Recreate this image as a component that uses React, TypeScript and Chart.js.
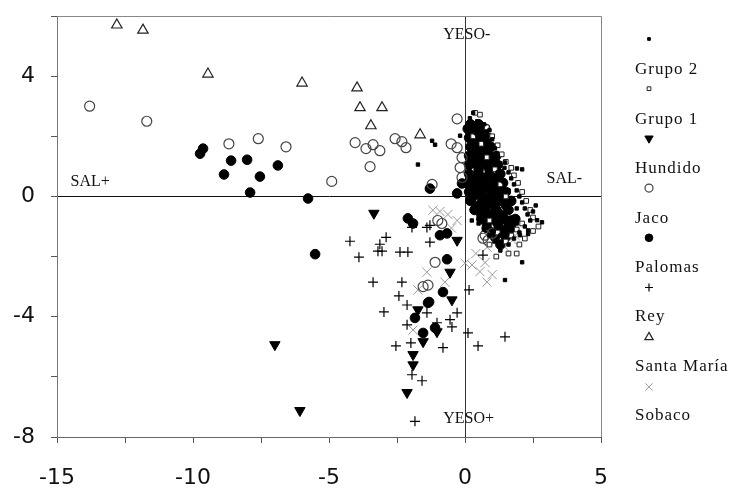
import React, { useEffect, useRef } from 'react';
import { Chart, registerables } from 'chart.js';
import { drawPoint } from 'chart.js/helpers';

Chart.register(...registerables);

type P = [number, number];

const seriesNames = ['Grupo 2', 'Grupo 1', 'Hundido', 'Jaco', 'Palomas', 'Rey', 'Santa María', 'Sobaco'];

const xTickLabels = ['-15', '-10', '-5', '0', '5'];
const yTickLabels = ['-8', '-4', '0', '4'];

const grupo2: P[] = [
  [0.18, 2.6], [0.3, 2.78], [0.45, 2.5], [0.7, 2.4], [0.9, 2.2], [0.1, 2.3], [0.6, 2.0], [1.0, 1.9],
  [0.8, 1.7], [1.1, 1.6], [1.2, 1.3], [1.3, 1.1], [1.45, 0.95], [1.6, 0.8], [1.7, 0.6], [1.8, 0.4],
  [1.9, 0.2], [2.0, 0.0], [2.1, -0.2], [2.2, -0.4], [2.3, -0.6], [2.4, -0.8], [2.2, -1.0], [2.0, -1.2],
  [1.8, -1.4], [1.6, -1.6], [1.3, -1.8], [1.1, -1.5], [0.9, -1.3], [0.7, -1.1], [0.5, -0.9],
  [0.2, 1.6], [0.5, 1.4], [0.9, 1.1], [1.2, 0.8], [1.4, 0.5], [1.6, 0.2], [1.7, -0.1], [1.9, -0.4],
  [1.7, -0.7], [1.5, -1.0], [1.3, -1.3], [0.2, 1.0], [0.4, 0.8], [0.6, 0.5], [1.0, 0.6], [0.2, 0.3],
  [0.1, -0.1], [0.3, -0.5], [0.7, -0.3], [1.0, 0.1], [1.2, -0.5], [1.4, -0.7], [1.1, -0.9],
  [1.21, 1.36], [1.47, 1.13], [1.91, 0.93], [2.1, 0.9], [2.65, -0.79], [2.83, -0.86], [2.32, -1.13],
  [2.32, -1.25], [2.02, -1.29], [2.1, -2.19], [1.47, -2.78], [-1.21, 1.85], [-1.1, 1.72], [-1.73, 1.06],
  [-0.18, 2.02], [2.5, -0.5], [2.6, -0.3], [0.4, 2.1], [0.75, 1.85], [0.95, 1.45], [1.35, 0.25],
  [1.55, -0.35], [0.85, -0.55], [0.45, 0.15], [0.25, -0.8], [1.05, -1.15], [1.55, -1.25], [1.9, -0.9],
];

const grupo1: P[] = [
  [0.37, 2.78], [0.55, 2.72], [0.8, 2.3], [1.0, 2.0], [1.2, 1.7], [1.35, 1.4], [1.5, 1.15], [1.7, 0.95],
  [1.8, 0.7], [1.95, 0.45], [2.1, 0.15], [2.25, -0.15], [2.4, -0.45], [2.5, -0.7], [2.1, -0.9],
  [1.9, -1.1], [1.7, -1.3], [2.0, -1.6], [1.5, -1.5], [1.2, -1.2], [0.9, -0.8], [1.5, 0.0], [1.3, 0.4],
  [1.1, 0.9], [0.8, 1.3], [0.6, 1.75], [0.3, 2.0], [2.2, -1.4], [1.9, -1.9], [2.5, -1.15], [2.7, -1.0],
  [1.6, -1.9], [0.9, -1.6], [1.15, -2.0],
];

const hundido: P[] = [
  [-3.35, -0.56], [-6.99, -4.93], [-6.07, -7.12], [-0.29, -1.46], [-0.55, -2.52], [-0.48, -3.44],
  [-1.73, -3.77], [-1.03, -4.5], [-1.54, -4.83], [-1.91, -5.26], [-1.91, -5.6], [-2.13, -6.52],
];

const jaco: P[] = [
  [-13.8, 3.0], [-11.7, 2.5], [-8.68, 1.75], [-7.6, 1.92], [-6.58, 1.65], [-4.9, 0.5], [-4.04, 1.79],
  [-3.64, 1.59], [-3.38, 1.72], [-3.13, 1.52], [-3.49, 0.99], [-2.57, 1.92], [-2.32, 1.82],
  [-2.17, 1.62], [-1.21, 0.4], [-0.51, 1.75], [-0.29, 2.58], [-0.29, 1.62], [-0.11, 1.29],
  [-0.18, 0.96], [-0.11, 0.63], [-1.0, -0.8], [-0.85, -0.9], [0.66, -1.39], [0.85, -1.46],
  [0.74, -1.29], [1.0, -1.23], [-1.1, -2.19], [-1.54, -3.0], [-1.36, -2.95],
];

const palomas: P[] = [
  [-9.74, 1.42], [-9.63, 1.59], [-8.6, 1.19], [-8.01, 1.22], [-8.86, 0.73], [-7.54, 0.66], [-6.88, 1.03],
  [-7.9, 0.13], [-5.77, -0.07], [-5.51, -1.92], [-1.29, 0.26], [-2.1, -0.73], [-1.91, -0.9],
  [-0.92, -1.29], [-0.66, -1.23], [-0.66, -2.09], [-1.32, -3.51], [-0.81, -3.18], [-1.84, -4.04],
  [-1.54, -4.54], [-1.1, -4.37], [-1.36, -3.54], [-0.11, 0.43], [-0.29, 0.1],
  [0.2, 2.4], [0.5, 2.4], [0.3, 2.1], [0.6, 2.1], [0.3, 1.8], [0.7, 1.8], [0.4, 1.5], [0.8, 1.5],
  [0.3, 1.2], [0.6, 1.2], [1.0, 1.2], [0.5, 0.9], [0.9, 0.9], [0.3, 0.6], [0.7, 0.6], [1.1, 0.6],
  [0.4, 0.3], [0.8, 0.3], [1.2, 0.3], [0.3, 0.0], [0.6, 0.0], [0.9, 0.0], [1.3, 0.0], [0.5, -0.3],
  [0.8, -0.3], [1.1, -0.3], [1.5, -0.3], [0.6, -0.6], [0.9, -0.6], [1.3, -0.6], [0.8, -0.9],
  [1.2, -0.9], [1.6, -0.9], [1.0, -1.2], [1.4, -1.2],
  [0.1, 2.25], [0.45, 2.25], [0.75, 2.25], [0.15, 1.95], [0.5, 1.95], [0.85, 1.95], [0.2, 1.65],
  [0.55, 1.65], [0.95, 1.65], [0.15, 1.35], [0.5, 1.35], [0.85, 1.35], [1.15, 1.35], [0.15, 1.05],
  [0.45, 1.05], [0.8, 1.05], [1.2, 1.05], [0.15, 0.75], [0.5, 0.75], [0.9, 0.75], [1.3, 0.75],
  [0.1, 0.45], [0.55, 0.45], [1.0, 0.45], [1.4, 0.45], [0.15, 0.15], [0.6, 0.15], [1.05, 0.15],
  [1.5, 0.15], [0.2, -0.15], [0.65, -0.15], [1.0, -0.15], [1.35, -0.15], [1.7, -0.15], [0.35, -0.45],
  [0.75, -0.45], [1.15, -0.45], [1.6, -0.45], [0.6, -0.75], [1.0, -0.75], [1.45, -0.75], [1.85, -0.75],
  [0.8, -1.05], [1.25, -1.05], [1.7, -1.05], [1.1, -1.35], [1.5, -1.35], [1.3, -1.6],
];

const rey: P[] = [
  [-4.23, -1.49], [-2.9, -1.36], [-3.13, -1.59], [-3.2, -1.82], [-3.05, -1.82], [-2.39, -1.85],
  [-2.1, -1.85], [-3.9, -2.02], [-3.38, -2.85], [-2.32, -2.85], [-2.43, -3.31], [-2.13, -3.61],
  [-1.29, -0.96], [-1.29, -1.52], [-2.98, -3.84], [-1.4, -3.87], [-0.29, -3.87], [-0.55, -4.1],
  [-0.48, -4.34], [-1.03, -4.2], [-2.13, -4.27], [-2.54, -4.97], [-1.99, -4.87], [-0.81, -5.03],
  [-1.95, -5.93], [-1.58, -6.13], [-1.84, -7.48], [0.11, -4.54], [0.48, -4.97], [1.47, -4.67],
  [0.15, -3.11], [0.66, -1.95], [-1.95, -1.03], [-1.4, -1.03],
];

const santaMaria: P[] = [
  [-12.8, 5.7], [-11.84, 5.53], [-9.45, 4.07], [-5.99, 3.77], [-3.97, 3.61], [-3.86, 2.95],
  [-3.05, 2.95], [-3.46, 2.35], [-1.65, 2.05],
];

const sobaco: P[] = [
  [-1.18, -0.46], [-0.92, -0.5], [-0.63, -0.6], [-0.29, -0.8], [-0.5, -1.05], [0.81, -1.69],
  [1.1, -1.5], [1.47, -1.69], [1.76, -1.46], [1.84, -1.3], [0.0, -2.22], [0.26, -2.28], [0.55, -2.5],
  [0.74, -2.2], [0.81, -2.85], [1.0, -2.6], [-1.4, -2.52], [-1.73, -3.11], [-1.91, -4.44],
  [-0.74, -2.85], [0.4, -1.9],
];

const seriesData: P[][] = [grupo2, grupo1, hundido, jaco, palomas, rey, santaMaria, sobaco];

const styles = [
  { pointStyle: 'rect', radius: 2.4, rotation: 0, bg: '#000', border: '#000', bw: 1 },
  { pointStyle: 'rect', radius: 3.3, rotation: 0, bg: '#fff', border: '#222', bw: 1 },
  { pointStyle: 'triangle', radius: 6, rotation: 180, bg: '#000', border: '#000', bw: 1 },
  { pointStyle: 'circle', radius: 5, rotation: 0, bg: 'rgba(0,0,0,0)', border: '#444', bw: 1.2 },
  { pointStyle: 'circle', radius: 4.8, rotation: 0, bg: '#000', border: '#000', bw: 1 },
  { pointStyle: 'cross', radius: 5, rotation: 0, bg: '#000', border: '#000', bw: 1.2 },
  { pointStyle: 'triangle', radius: 6, rotation: 0, bg: 'rgba(0,0,0,0)', border: '#222', bw: 1.2 },
  { pointStyle: 'crossRot', radius: 6.5, rotation: 0, bg: '#999', border: '#999', bw: 1 },
];

const SERIF = "'Liberation Serif', 'Times New Roman', serif";

const extrasPlugin = {
  id: 'extras',
  beforeDatasetsDraw(chart: any) {
    const { ctx, chartArea } = chart;
    ctx.save();
    ctx.strokeStyle = '#888';
    ctx.lineWidth = 1;
    ctx.beginPath();
    ctx.moveTo(chartArea.left, chartArea.top + 0.5);
    ctx.lineTo(chartArea.right + 0.5, chartArea.top + 0.5);
    ctx.lineTo(chartArea.right + 0.5, chartArea.bottom);
    ctx.stroke();
    ctx.restore();
  },
  afterDatasetsDraw(chart: any) {
    const { ctx, scales } = chart;
    const xs = scales.x;
    const ys = scales.y;
    ctx.save();
    ctx.fillStyle = '#111';
    ctx.font = `16px ${SERIF}`;
    ctx.textBaseline = 'alphabetic';
    ctx.textAlign = 'left';
    const labels: [string, number, number][] = [
      ['YESO-', -0.8, 5.25],
      ['SAL-', 3.0, 0.45],
      ['SAL+', -14.5, 0.36],
      ['YESO+', -0.8, -7.55],
    ];
    for (const [t, x, y] of labels) {
      ctx.fillText(t, xs.getPixelForValue(x), ys.getPixelForValue(y));
    }
    ctx.restore();
  },
  afterDraw(chart: any) {
    const { ctx, chartArea } = chart;
    ctx.save();
    const mx = chartArea.right + 48;
    const tx = chartArea.right + 34;
    chart.data.datasets.forEach((ds: any, i: number) => {
      const st = styles[i];
      const my = 39 + i * 49.7;
      const ly = 70 + i * 49.4;
      ctx.save();
      ctx.fillStyle = st.bg;
      ctx.strokeStyle = st.border;
      ctx.lineWidth = st.bw;
      drawPoint(ctx, { pointStyle: st.pointStyle as any, radius: st.radius * 0.8, rotation: st.rotation, borderWidth: st.bw }, mx, my);
      ctx.restore();
      ctx.fillStyle = '#111';
      ctx.font = `17px ${SERIF}`;
      try { (ctx as any).letterSpacing = '1px'; } catch (e) { /* ignore */ }
      ctx.textAlign = 'left';
      ctx.textBaseline = 'middle';
      ctx.fillText(ds.label, tx, ly);
      try { (ctx as any).letterSpacing = '0px'; } catch (e) { /* ignore */ }
    });
    ctx.restore();
  },
};

export default function App() {
  const ref = useRef<HTMLCanvasElement | null>(null);
  useEffect(() => {
    if (!ref.current) return;
    const datasets = seriesNames.map((name, i) => {
      const st = styles[i];
      return {
        label: name,
        data: seriesData[i].map(([x, y]) => ({ x, y })),
        pointStyle: st.pointStyle,
        pointRadius: st.radius,
        pointRotation: st.rotation,
        pointBackgroundColor: st.bg,
        pointBorderColor: st.border,
        pointBorderWidth: st.bw,
        showLine: false,
      };
    });
    const chart = new Chart(ref.current, {
      type: 'scatter',
      data: { datasets } as any,
      plugins: [extrasPlugin],
      options: {
        animation: false,
        responsive: false,
        maintainAspectRatio: false,
        layout: { padding: { top: 16, right: 134, left: 0, bottom: 0 } },
        plugins: { legend: { display: false }, tooltip: { enabled: false } },
        scales: {
          x: {
            type: 'linear',
            min: -15,
            max: 5,
            afterFit: (s: any) => { s.height = 53; s.paddingLeft = 0; s.paddingRight = 0; },
            border: { display: true, color: '#666', width: 1 },
            grid: {
              color: (c: any) => (c.tick && c.tick.value === 0 ? '#333' : 'rgba(0,0,0,0)'),
              tickColor: '#555',
              tickLength: 6,
              drawTicks: true,
            },
            ticks: {
              stepSize: 2.5,
              autoSkip: false,
              maxRotation: 0,
              padding: 22,
              color: '#111',
              font: { family: "'DejaVu Sans', Arial, sans-serif", size: 22 },
              callback: (v: any) => {
                const s = String(v);
                return xTickLabels.includes(s) ? s : '';
              },
            },
          },
          y: {
            type: 'linear',
            min: -8,
            max: 6,
            afterFit: (s: any) => { s.width = 57; s.paddingTop = 0; s.paddingBottom = 0; },
            border: { display: true, color: '#777', width: 1 },
            grid: {
              color: (c: any) => (c.tick && c.tick.value === 0 ? '#111' : 'rgba(0,0,0,0)'),
              tickColor: '#555',
              tickLength: 6,
              drawTicks: true,
            },
            ticks: {
              stepSize: 2,
              autoSkip: false,
              padding: 16,
              color: '#111',
              font: { family: "'DejaVu Sans', Arial, sans-serif", size: 22 },
              callback: (v: any) => {
                const s = String(v);
                return yTickLabels.includes(s) ? s : '';
              },
            },
          },
        },
      } as any,
    });
    return () => chart.destroy();
  }, []);
  return (
    <div style={{ position: 'fixed', left: 0, top: 0, width: 735, height: 490, background: '#fff' }}>
      <canvas ref={ref} width={735} height={490} style={{ display: 'block', width: 735, height: 490 }} />
    </div>
  );
}
